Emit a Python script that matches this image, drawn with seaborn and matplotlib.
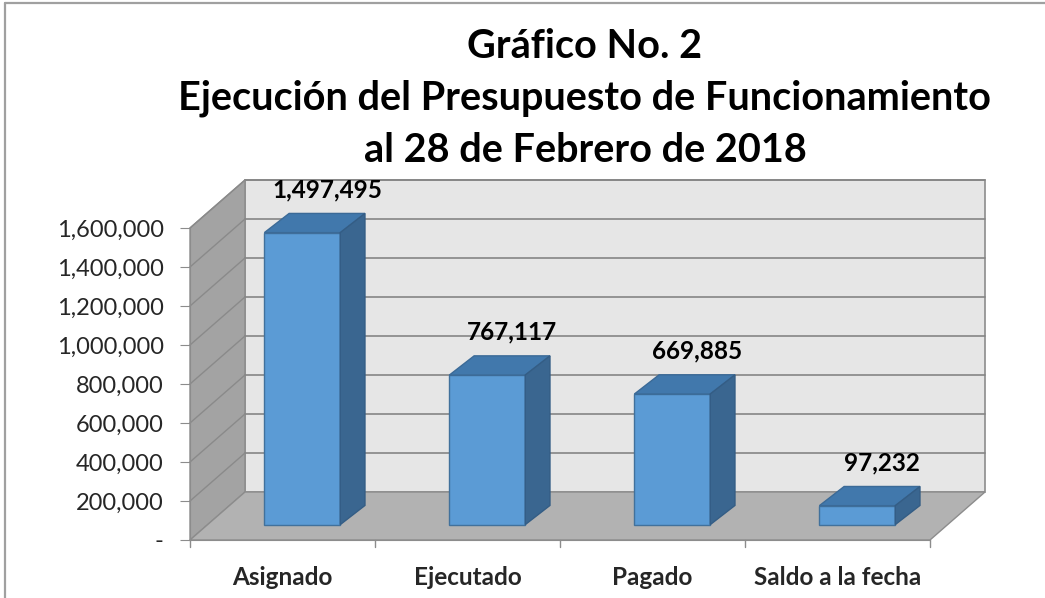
import numpy as np
import pandas as pd
import seaborn as sns
import matplotlib
matplotlib.use("Agg")
import matplotlib.pyplot as plt
from matplotlib.patches import Polygon
from matplotlib.lines import Line2D
from matplotlib.ticker import FuncFormatter

# ---------------- data ----------------
categories = ["Asignado", "Ejecutado", "Pagado", "Saldo a la fecha"]
values = [1497495, 767117, 669885, 97232]
y_ticks = [0, 200000, 400000, 600000, 800000, 1000000, 1200000, 1400000, 1600000]
title_lines = ["Gráfico No. 2",
               "Ejecución del Presupuesto de Funcionamiento",
               "al 28 de Febrero de 2018"]

# ---------------- style ----------------
sns.set_style("white")
plt.rcParams["font.family"] = ["Lato", "DejaVu Sans"]

W, H = 1045, 598
fig = plt.figure(figsize=(W / 100, H / 100), dpi=100)
ax = fig.add_axes([190 / W, 58 / H, 740 / W, 312 / H])

df = pd.DataFrame({"cat": categories, "val": values})
sns.barplot(data=df, x="cat", y="val", width=0.41, color="#5b9bd5",
            saturation=1, edgecolor="#41719c", linewidth=1.0, ax=ax, zorder=6)

ymax = y_ticks[-1]
ax.set_xlim(-0.5, len(categories) - 0.5)
ax.set_ylim(0, ymax)

# depth of the 3-D box (in data units)
px_x = (len(categories)) / 740.0
px_y = ymax / 312.0
DX = 55 * px_x
DY = 48 * px_y

wall_edge = "#8c8c8c"
grid_col = "#858585"
x0, x1 = -0.5, len(categories) - 0.5

# back wall
ax.add_patch(Polygon([(x0 + DX, DY), (x1 + DX, DY), (x1 + DX, ymax + DY), (x0 + DX, ymax + DY)],
                     closed=True, facecolor="#e6e6e6", edgecolor=wall_edge, lw=1.2,
                     clip_on=False, zorder=0))
# left wall
ax.add_patch(Polygon([(x0, 0), (x0 + DX, DY), (x0 + DX, ymax + DY), (x0, ymax)],
                     closed=True, facecolor="#a3a3a3", edgecolor=wall_edge, lw=1.0,
                     clip_on=False, zorder=1))
# floor
ax.add_patch(Polygon([(x0, 0), (x1, 0), (x1 + DX, DY), (x0 + DX, DY)],
                     closed=True, facecolor="#b2b2b2", edgecolor=wall_edge, lw=1.0,
                     clip_on=False, zorder=1))
# gridlines (back wall + left wall)
for t in y_ticks[1:]:
    ax.add_line(Line2D([x0 + DX, x1 + DX], [t + DY, t + DY], color=grid_col, lw=1.2,
                       clip_on=False, zorder=2))
    ax.add_line(Line2D([x0, x0 + DX], [t, t + DY], color="#8a8a8a", lw=1.0,
                       clip_on=False, zorder=2))

# bars: shift into the depth and add top / side faces
f0x, f0y = 0.36, 0.32      # front plane of the bars
dbx, dby = 0.45, 0.40      # bar depth
for p, v in zip(ax.patches, values):
    bx = p.get_x() + f0x * DX
    by = f0y * DY
    w = p.get_width()
    h = p.get_height()
    p.set_x(bx)
    p.set_y(by)
    ddx, ddy = dbx * DX, dby * DY
    top = Polygon([(bx, by + h), (bx + w, by + h), (bx + w + ddx, by + h + ddy), (bx + ddx, by + h + ddy)],
                  closed=True, facecolor="#4178ac", edgecolor="#3b6a97", lw=1.0,
                  clip_on=False, zorder=7)
    side = Polygon([(bx + w, by), (bx + w + ddx, by + ddy), (bx + w + ddx, by + h + ddy), (bx + w, by + h)],
                   closed=True, facecolor="#3a6690", edgecolor="#345d85", lw=1.0,
                   clip_on=False, zorder=7)
    ax.add_patch(top)
    ax.add_patch(side)
    ax.text(bx + w / 2 + ddx, by + h + ddy + 24 * px_y, f"{v:,.0f}",
            ha="center", va="center", fontsize=17.5, fontweight="bold", color="black",
            zorder=10, clip_on=False)

# axes styling
for s in ["top", "right"]:
    ax.spines[s].set_visible(False)
ax.spines["left"].set_color("#8c8c8c")
ax.spines["bottom"].set_color("#8c8c8c")
ax.spines["left"].set_zorder(3)
ax.spines["bottom"].set_zorder(3)
ax.set_yticks(y_ticks)
ax.yaxis.set_major_formatter(FuncFormatter(lambda v, _: "-" if v == 0 else f"{v:,.0f}"))
ax.tick_params(axis="y", direction="out", length=7, color="#8c8c8c", labelsize=17, pad=12,
               left=True)
ax.set_xticks(range(len(categories)))
ax.set_xticklabels(categories, fontsize=17.5, fontweight="bold")
ax.tick_params(axis="x", length=0, pad=19)
# category boundary tick marks
for b in np.arange(x0, x1 + 0.01, 1.0):
    ax.add_line(Line2D([b, b], [0, -7 * px_y], color="#8c8c8c", lw=1.0, clip_on=False, zorder=3))
ax.set_xlabel("")
ax.set_ylabel("")
ax.patch.set_visible(False)

# title
for i, line in enumerate(title_lines):
    fig.text(585 / W, 1 - (46 + 52 * i) / H, line, ha="center", va="center",
             fontsize=28.5, fontweight="bold", color="black")

# chart frame (left and top)
fig.add_artist(Line2D([4.5 / W, 4.5 / W], [0, 1 - 2.5 / H], color="#a0a0a0", lw=1.6))
fig.add_artist(Line2D([4.5 / W, 1], [1 - 2.5 / H, 1 - 2.5 / H], color="#a0a0a0", lw=1.6))

fig.savefig("out.png", dpi=100)
